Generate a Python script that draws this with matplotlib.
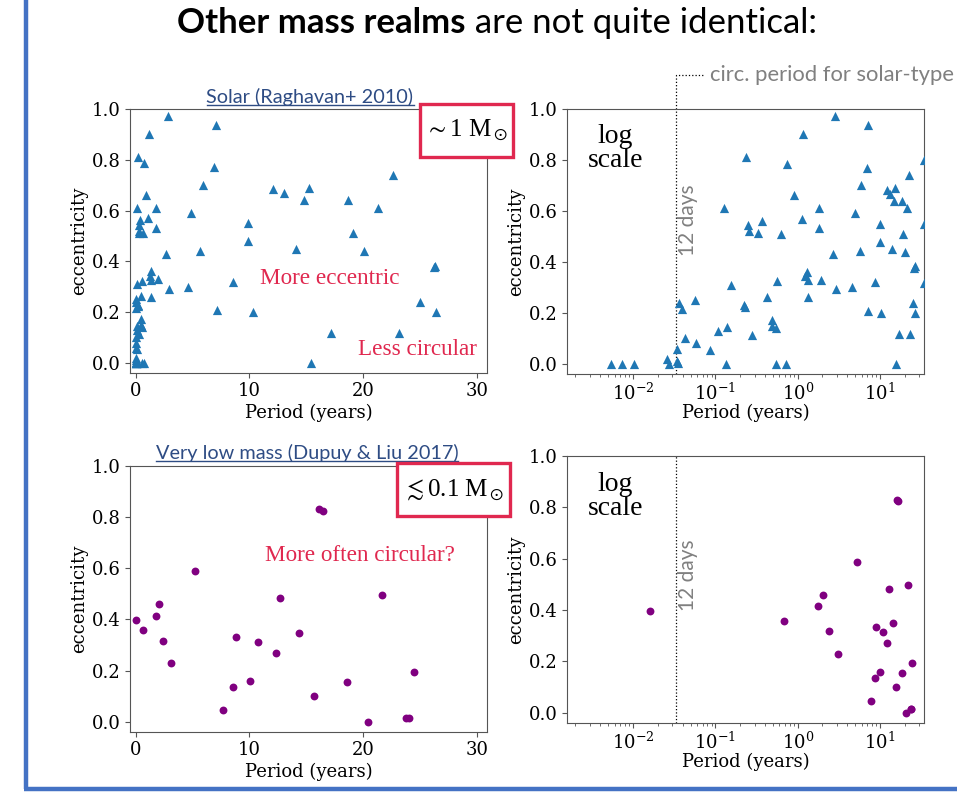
import matplotlib
matplotlib.use('Agg')
import matplotlib.pyplot as plt
from matplotlib.transforms import blended_transform_factory, IdentityTransform
from matplotlib.patches import Rectangle
from matplotlib.lines import Line2D

# ---------------- data ----------------
solar_period = [0.0054, 0.0074, 0.0103, 0.026, 0.027, 0.034, 0.034, 0.035, 0.036, 0.039,
                0.043, 0.057, 0.058, 0.087, 0.107, 0.126, 0.135, 0.139, 0.153, 0.224,
                0.228, 0.235, 0.251, 0.253, 0.276, 0.333, 0.372, 0.43, 0.481, 0.485,
                0.543, 0.553, 0.555, 0.625, 0.72, 0.733, 0.893, 1.12, 1.17, 1.23,
                1.31, 1.33, 1.34, 1.81, 1.82, 1.93, 2.7, 2.9, 2.8, 4.6,
                4.9, 5.7, 5.9, 7.07, 6.9, 7.16, 8.6, 9.9, 9.92, 10.3,
                12.1, 13.05, 14.1, 14.8, 15.2, 15.45, 17.2, 18.65, 19.1, 20.1,
                21.35, 22.6, 23.2, 25.0, 26.2, 26.3, 26.4, 34.0, 34.6, 34.6]
solar_ecc = [0.0, 0.0, 0.0, 0.02, 0.0, 0.06, 0.01, 0.004, 0.24, 0.215,
             0.10, 0.25, 0.08, 0.054, 0.128, 0.61, 0.0, 0.144, 0.31, 0.229,
             0.222, 0.81, 0.544, 0.52, 0.115, 0.512, 0.562, 0.263, 0.171, 0.15,
             0.14, 0.0, 0.324, 0.511, 0.0, 0.786, 0.663, 0.57, 0.902, 0.344,
             0.362, 0.327, 0.261, 0.61, 0.532, 0.33, 0.429, 0.292, 0.971, 0.30,
             0.591, 0.441, 0.70, 0.937, 0.77, 0.208, 0.32, 0.55, 0.48, 0.2,
             0.683, 0.668, 0.45, 0.64, 0.69, 0.0, 0.117, 0.64, 0.51, 0.44,
             0.61, 0.74, 0.118, 0.24, 0.376, 0.383, 0.2, 0.80, 0.55, 0.318]

vlm_period = [0.0161, 0.68, 1.75, 2.03, 2.39, 3.07, 5.19, 7.7, 8.6, 8.85,
              10.05, 10.75, 12.3, 12.7, 14.4, 15.7, 16.1, 16.5, 18.6, 20.4,
              21.65, 23.8, 24.0, 24.5]
vlm_ecc = [0.398, 0.358, 0.415, 0.459, 0.317, 0.228, 0.589, 0.045, 0.137, 0.332,
           0.16, 0.313, 0.27, 0.483, 0.349, 0.102, 0.83, 0.825, 0.155, 0.0,
           0.496, 0.013, 0.016, 0.194]

period_12d = 12 / 365.25
xlim_lin = (-0.5, 30.9)
xlim_log = (0.00158, 34.2)
ylim = (-0.04, 1.0)

# ---------------- style ----------------
W, H = 957, 796
plt.rcParams['font.family'] = ['DejaVu Serif']
plt.rcParams['mathtext.fontset'] = 'dejavuserif'
plt.rcParams['font.size'] = 13
plt.rcParams['axes.edgecolor'] = '#555555'
plt.rcParams['xtick.color'] = '#555555'
plt.rcParams['ytick.color'] = '#555555'
plt.rcParams['xtick.labelcolor'] = 'black'
plt.rcParams['ytick.labelcolor'] = 'black'
plt.rcParams['xtick.major.pad'] = 3.0
plt.rcParams['ytick.major.pad'] = 3.0

SANS = ['Lato', 'DejaVu Sans']
RED = '#E0284F'
BLUE_T = '#2E4C84'
GRAY = '#808080'

fig = plt.figure(figsize=(W / 100, H / 100), dpi=100)


def ax_at(l, t, r, b):
    return fig.add_axes([l / W, 1 - b / H, (r - l) / W, (b - t) / H])


def fx(x):
    return x / W


def fy(y):
    return 1 - y / H


ax_tl = ax_at(130, 109, 487, 373)
ax_tr = ax_at(567, 109, 924, 374)
ax_bl = ax_at(130, 466, 487, 732)
ax_br = ax_at(567, 456, 924, 723)

for ax in (ax_tl, ax_tr):
    ax.scatter(solar_period, solar_ecc, marker='^', s=44, color='#1f77b4', linewidths=0, zorder=3)
for ax in (ax_bl, ax_br):
    ax.scatter(vlm_period, vlm_ecc, marker='o', s=32, color='#800080', linewidths=0, zorder=3)

for ax in (ax_tl, ax_bl):
    ax.set_xlim(*xlim_lin)
    ax.set_xticks([0, 10, 20, 30])
    ax.set_xlabel('Period (years)', labelpad=3)
for ax in (ax_tr, ax_br):
    ax.set_xscale('log')
    ax.set_xlim(*xlim_log)
    ax.set_xlabel('Period (years)', labelpad=0)
for ax in (ax_tl, ax_tr, ax_bl, ax_br):
    ax.set_ylim(*ylim)
    ax.set_yticks([0.0, 0.2, 0.4, 0.6, 0.8, 1.0])
    ax.set_ylabel('eccentricity', labelpad=3)

# 12-day lines
for ax, ytxt in ((ax_tr, 0.58), (ax_br, 0.555)):
    ax.axvline(period_12d, ls=':', color='black', lw=0.9)
    tr = blended_transform_factory(ax.transData, ax.transAxes)
    ax.text(period_12d * 1.42, ytxt, '12 days', transform=tr, rotation=90,
            ha='center', va='center', color=GRAY, fontsize=15, family=SANS)
    ax.text(0.135, 0.85, 'log\nscale', transform=ax.transAxes, ha='center', va='center',
            fontsize=20, family='Liberation Serif', linespacing=0.95)

tr = blended_transform_factory(ax_tr.transData, ax_tr.transAxes)
ax_tr.add_line(Line2D([period_12d, period_12d, period_12d * 2.2], [1.0, 1.128, 1.128],
                      transform=tr, ls=':', color='black', lw=0.9, clip_on=False))
ax_tr.text(period_12d * 2.6, 1.128, 'circ. period for solar-type', transform=tr,
           ha='left', va='center', color=GRAY, fontsize=15.8, family=SANS, clip_on=False)

# red annotations
ax_tl.text(0.56, 0.358, 'More eccentric', transform=ax_tl.transAxes, ha='center', va='center',
           color=RED, fontsize=16.7, family='Liberation Serif')
ax_tl.text(0.804, 0.09, 'Less circular', transform=ax_tl.transAxes, ha='center', va='center',
           color=RED, fontsize=16.7, family='Liberation Serif')
ax_bl.text(0.644, 0.665, 'More often circular?', transform=ax_bl.transAxes, ha='center', va='center',
           color=RED, fontsize=16.7, family='Liberation Serif')

# mass boxes
for (l, t, r, b), label in (((420, 104, 513, 157), r'$\sim$1 M$_\odot$'),
                           ((397, 463, 510, 516), r'$\lesssim$0.1 M$_\odot$')):
    fig.add_artist(Rectangle((fx(l) + 2 / W, fy(b) - 2 / H), (r - l) / W, (b - t) / H,
                             transform=fig.transFigure, fc='#cccccc', ec='none', alpha=0.6, zorder=4))
    fig.add_artist(Rectangle((fx(l), fy(b)), (r - l) / W, (b - t) / H,
                             transform=fig.transFigure, fc='white', ec=RED, lw=2.4, zorder=5))
    fig.text(fx((l + r) / 2), fy((t + b) / 2), label, ha='center', va='center', fontsize=18,
             family='Liberation Serif', math_fontfamily='stix', zorder=6)

# subtitles with underline
subs = []
for (cx, cy), s in (((310, 97), 'Solar (Raghavan+ 2010)'),
                    ((307, 453), 'Very low mass (Dupuy & Liu 2017)')):
    subs.append(fig.text(fx(cx), fy(cy), s, ha='center', va='center', color=BLUE_T,
                         fontsize=14.3, family=SANS))

# title: bold + regular parts
t1 = fig.text(0, fy(23), 'Other mass realms', fontsize=25, fontweight='bold', family=SANS,
              ha='left', va='center')
t2 = fig.text(0, fy(23), ' are not quite identical:', fontsize=25, family=SANS,
              ha='left', va='center')

renderer = fig.canvas.get_renderer()
w1 = t1.get_window_extent(renderer).width
w2 = t2.get_window_extent(renderer).width
x0 = 497 - (w1 + w2) / 2
t1.set_x(fx(x0))
t2.set_x(fx(x0 + w1))

for t in subs:
    bb = t.get_window_extent(renderer)
    fig.add_artist(Line2D([bb.x0, bb.x1], [bb.y0 + 1, bb.y0 + 1], transform=IdentityTransform(),
                          color=BLUE_T, lw=1.0))

# slide frame (blue border)
fig.add_artist(Line2D([fx(25.5), fx(25.5)], [fy(0), fy(789)], transform=fig.transFigure,
                      color='#4472C4', lw=3.2, solid_capstyle='butt'))
fig.add_artist(Line2D([fx(24), fx(957)], [fy(789), fy(789)], transform=fig.transFigure,
                      color='#4472C4', lw=3.2, solid_capstyle='butt'))

fig.savefig('out.png', dpi=100)
